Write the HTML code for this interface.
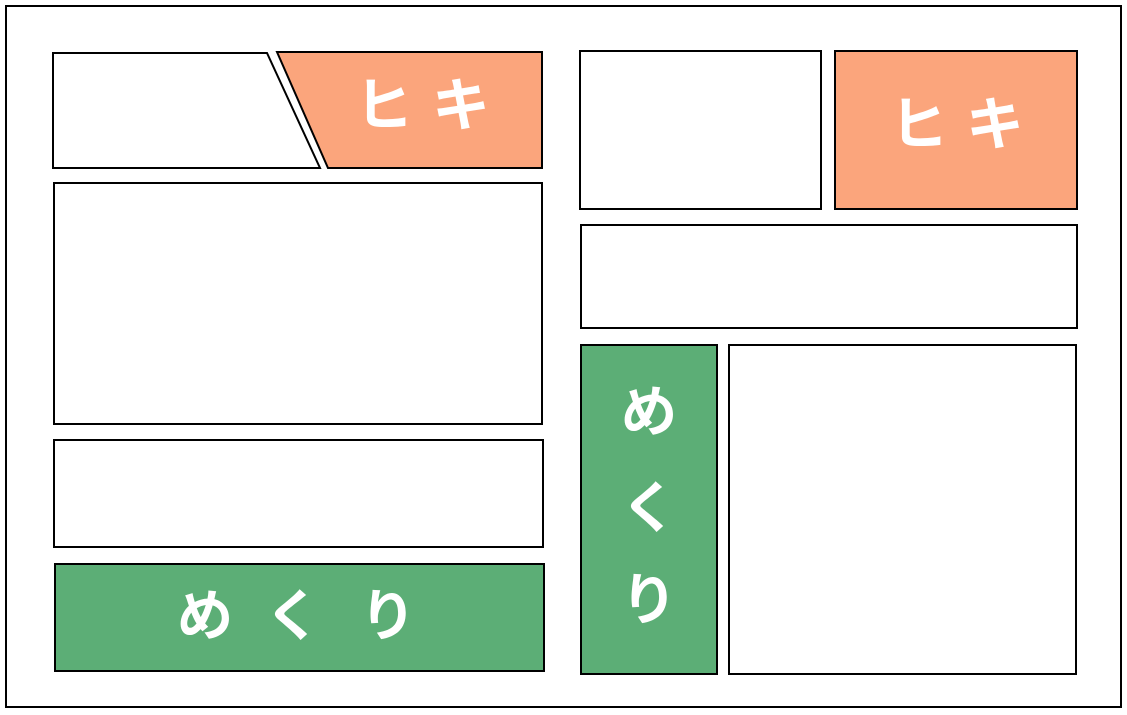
<!DOCTYPE html>
<html><head><meta charset="utf-8"><style>
html,body{margin:0;padding:0;background:#fff;}
svg{display:block}
text{font-family:"Liberation Sans","Noto Sans CJK JP",sans-serif;font-weight:bold;fill:#fff;text-anchor:middle;dominant-baseline:central}
</style></head><body>
<svg width="1127" height="715" viewBox="0 0 1127 715" xmlns="http://www.w3.org/2000/svg">
<rect x="0" y="0" width="1127" height="715" fill="#fff"/>
<rect x="6" y="6" width="1115" height="701" fill="none" stroke="#000" stroke-width="2"/>
<g stroke="#000" stroke-width="2">
<polygon points="53,53 267,53 320,168 53,168" fill="#fff"/>
<polygon points="277,52 542,52 542,168 328,168" fill="#FBA57C"/>
<rect x="54" y="183" width="488" height="241" fill="#fff"/>
<rect x="54" y="440" width="489" height="107" fill="#fff"/>
<rect x="55" y="564" width="489" height="107" fill="#5CAE76"/>
<rect x="580" y="51" width="241" height="158" fill="#fff"/>
<rect x="835" y="51" width="242" height="158" fill="#FBA57C"/>
<rect x="581" y="225" width="496" height="103" fill="#fff"/>
<rect x="581" y="345" width="136" height="329" fill="#5CAE76"/>
<rect x="729" y="345" width="347" height="329" fill="#fff"/>
</g>
<g font-size="58">
<text x="384" y="106">ヒ</text>
<text x="461" y="106">キ</text>
<text x="919" y="125">ヒ</text>
<text x="995" y="125">キ</text>
</g>
<g font-size="56">
<text x="205" y="616">め</text>
<text x="293" y="616">く</text>
<text x="388" y="616">り</text>
<text x="649" y="412">め</text>
<text x="649" y="508">く</text>
<text x="649" y="600">り</text>
</g>
</svg>
</body></html>
